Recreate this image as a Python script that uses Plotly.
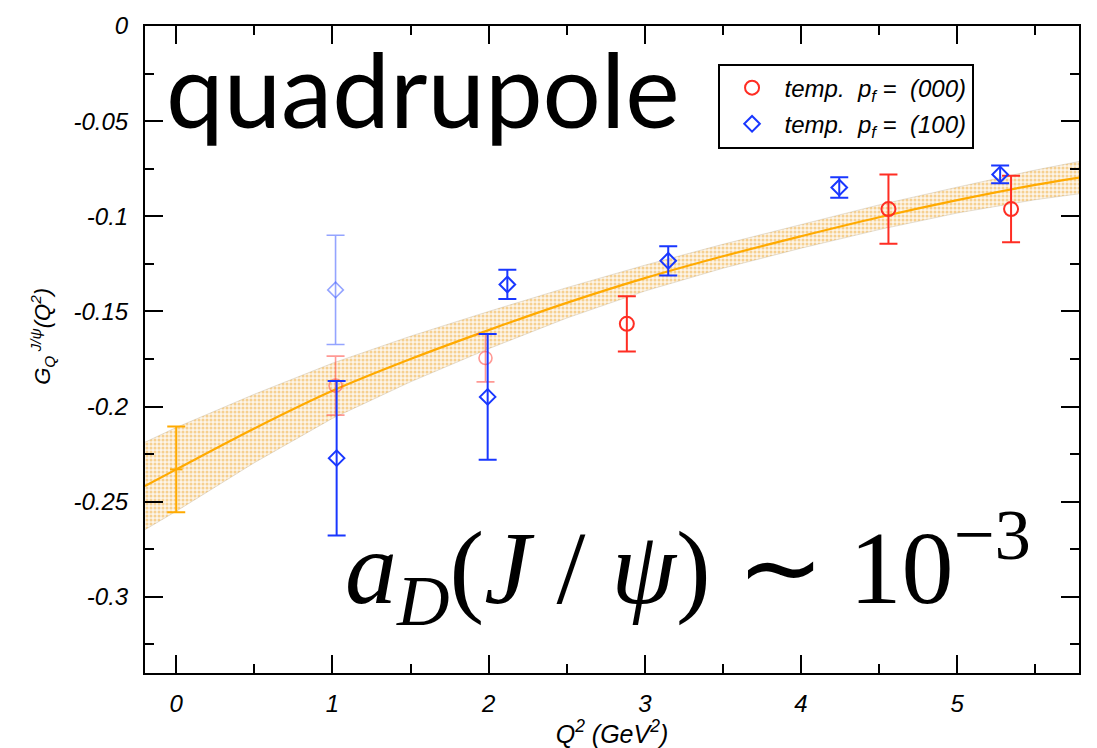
import plotly.graph_objects as go

# ---------------- data ----------------
# lattice fit curve and its error band
band_x = [-0.2, 0.0, 0.5, 1.0, 1.5, 2.0, 2.5, 3.0, 3.5, 4.0, 4.5, 5.0, 5.5, 5.78]
fit_y = [-0.2417, -0.2330, -0.2115, -0.1917, -0.1750, -0.1598, -0.1455, -0.1325,
         -0.1210, -0.1105, -0.1005, -0.0915, -0.0835, -0.0797]
band_upper = [-0.2187, -0.2110, -0.1935, -0.1772, -0.1630, -0.1500, -0.1375, -0.1257,
              -0.1147, -0.1042, -0.0940, -0.0847, -0.0757, -0.0712]
band_lower = [-0.2647, -0.2550, -0.2295, -0.2062, -0.1870, -0.1696, -0.1535, -0.1393,
              -0.1273, -0.1168, -0.1070, -0.0983, -0.0913, -0.0882]

# extrapolated value at Q^2 = 0
fit0_x = [0.0]
fit0_y = [-0.233]
fit0_err = [0.0225]

# temp. p_f = (000)  (solid points)
red_x = [2.885, 4.56, 5.345]
red_y = [-0.1565, -0.0962, -0.0962]
red_err = [0.0145, 0.0182, 0.0175]
# temp. p_f = (000)  (hatched points)
red_h_x = [1.02, 1.98]
red_h_y = [-0.1890, -0.1745]
red_h_err = [0.0155, 0.0125]

# temp. p_f = (100)  (solid points)
blue_x = [1.027, 1.994, 2.12, 3.15, 4.245, 5.275]
blue_y = [-0.2271, -0.1949, -0.1358, -0.1234, -0.0849, -0.0780]
blue_err = [0.0406, 0.0331, 0.0077, 0.0077, 0.0054, 0.0047]
# temp. p_f = (100)  (hatched point)
blue_h_x = [1.02]
blue_h_y = [-0.1387]
blue_h_err = [0.0287]

x_tick_vals = [0, 1, 2, 3, 4, 5]
x_tick_text = ["0", "1", "2", "3", "4", "5"]
x_minor_vals = [0.5, 1.5, 2.5, 3.5, 4.5, 5.5]
y_tick_vals = [0, -0.05, -0.1, -0.15, -0.2, -0.25, -0.3]
y_tick_text = ["0", "-0.05", "-0.1", "-0.15", "-0.2", "-0.25", "-0.3"]
y_minor_vals = [-0.025, -0.075, -0.125, -0.175, -0.225, -0.275, -0.325]

# ---------------- styles ----------------
RED = "rgb(255,45,35)"
RED_H = "rgba(255,70,60,0.55)"
BLUE = "rgb(25,55,255)"
BLUE_H = "rgba(60,90,255,0.55)"
ORANGE = "rgb(255,170,0)"
TICKFONT = dict(family="Liberation Sans", size=24, color="black", style="italic")

fig = go.Figure()

# error band
fig.add_trace(go.Scatter(
    x=band_x + band_x[::-1], y=band_upper + band_lower[::-1],
    mode="lines", fill="toself",
    line=dict(width=0.6, color="rgba(170,155,125,0.5)"),
    fillcolor="rgba(255,200,110,0.25)",
    fillpattern=dict(shape=".", fgcolor="rgba(235,155,20,0.85)",
                     bgcolor="rgba(245,225,190,0.35)", size=4, solidity=0.45),
    hoverinfo="skip", showlegend=False))

# fit curve
fig.add_trace(go.Scatter(
    x=band_x, y=fit_y, mode="lines", line=dict(color=ORANGE, width=2.2, shape="spline"),
    showlegend=False, hoverinfo="skip"))

# fit value at zero
fig.add_trace(go.Scatter(
    x=fit0_x, y=fit0_y, mode="markers",
    marker=dict(symbol="line-ew-open", size=9, line=dict(color=ORANGE, width=2), color=ORANGE),
    error_y=dict(type="data", array=fit0_err, color=ORANGE, thickness=2, width=9),
    showlegend=False))

# hatched points
fig.add_trace(go.Scatter(
    x=red_h_x, y=red_h_y, mode="markers",
    marker=dict(symbol="circle-open", size=13, color=RED_H, line=dict(width=1.6)),
    error_y=dict(type="data", array=red_h_err, color=RED_H, thickness=1.6, width=9),
    showlegend=False))
fig.add_trace(go.Scatter(
    x=blue_h_x, y=blue_h_y, mode="markers",
    marker=dict(symbol="diamond-open", size=12, color=BLUE_H, line=dict(width=1.6)),
    error_y=dict(type="data", array=blue_h_err, color=BLUE_H, thickness=1.6, width=9),
    showlegend=False))

# solid points
fig.add_trace(go.Scatter(
    x=red_x, y=red_y, mode="markers", name="temp.&nbsp; p<sub>f</sub> =&nbsp; (000)",
    legendgroup="g000",
    marker=dict(symbol="circle-open", size=14, color=RED, line=dict(width=2)),
    error_y=dict(type="data", array=red_err, color=RED, thickness=2, width=9)))
fig.add_trace(go.Scatter(
    x=blue_x, y=blue_y, mode="markers", name="temp.&nbsp; p<sub>f</sub> =&nbsp; (100)",
    legendgroup="g100",
    marker=dict(symbol="diamond-open", size=12, color=BLUE, line=dict(width=2)),
    error_y=dict(type="data", array=blue_err, color=BLUE, thickness=2, width=9)))

fig.update_layout(
    width=1097, height=748,
    margin=dict(l=145, r=18, t=22, b=73),
    paper_bgcolor="white", plot_bgcolor="white",
    font=dict(family="Liberation Sans", color="black"),
    legend=dict(
        x=0.613, y=0.942, xanchor="left", yanchor="top",
        bgcolor="white", bordercolor="black", borderwidth=2,
        font=dict(family="Liberation Sans", size=24, style="italic", color="black"),
        itemwidth=55, tracegroupgap=2, traceorder="grouped"),
    xaxis=dict(
        range=[-0.2, 5.78], showgrid=False, zeroline=False,
        showline=True, linecolor="black", linewidth=2, mirror="allticks",
        tickmode="array", tickvals=x_tick_vals, ticktext=x_tick_text,
        ticks="inside", ticklen=18, tickwidth=1.5, tickcolor="black",
        minor=dict(tickmode="array", tickvals=x_minor_vals, ticks="inside",
                   ticklen=9, tickwidth=1.5, tickcolor="black", showgrid=False),
        tickfont=TICKFONT, ticklabelstandoff=8,
        title=dict(text="Q<sup>2</sup> (GeV<sup>2</sup>)", standoff=2,
                   font=dict(family="Liberation Sans", size=25, style="italic")),
    ),
    yaxis=dict(
        range=[-0.34, 0], showgrid=False, zeroline=False,
        showline=True, linecolor="black", linewidth=2, mirror="allticks",
        tickmode="array", tickvals=y_tick_vals, ticktext=y_tick_text,
        ticks="inside", ticklen=18, tickwidth=1.5, tickcolor="black",
        minor=dict(tickmode="array", tickvals=y_minor_vals, ticks="inside",
                   ticklen=9, tickwidth=1.5, tickcolor="black", showgrid=False),
        tickfont=TICKFONT, ticklabelstandoff=10,
    ),
)

# y-axis title (placed as a rotated annotation to match the reference position)
fig.add_annotation(
    text="G<sub>Q</sub><sup> J/ψ</sup>(Q<sup>2</sup>)", xref="paper", yref="paper",
    x=-0.110, y=0.52, xanchor="center", yanchor="middle", textangle=-90, showarrow=False,
    font=dict(family="Liberation Sans", size=22, style="italic", color="black"))

fig.add_annotation(
    text="quadrupole", xref="paper", yref="paper", x=0.02, y=0.9035,
    xanchor="left", yanchor="middle", showarrow=False,
    font=dict(family="Lato", size=103, color="black"))

fig.add_annotation(
    text="<i>a</i><sub><i>D</i></sub>(<i>J</i> / <i>ψ</i>) ∼ 10<sup>−3</sup>",
    xref="paper", yref="paper", x=0.581, y=0.163,
    xanchor="center", yanchor="middle", showarrow=False,
    font=dict(family="Liberation Serif", size=104, color="black"))

fig.write_html("out.html")
